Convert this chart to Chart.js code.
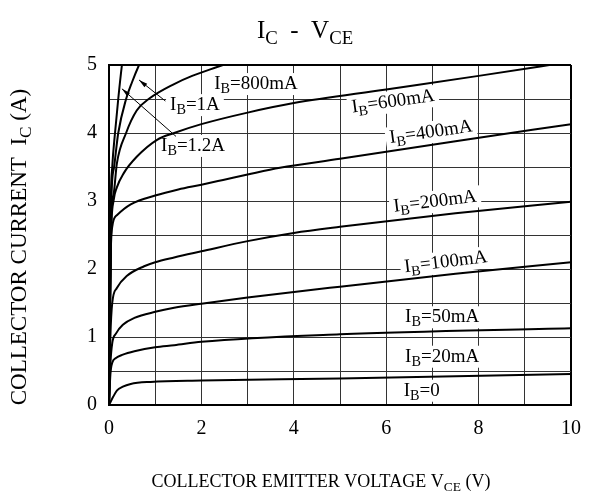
<!DOCTYPE html>
<html lang="en">
<head>
<meta charset="UTF-8">
<title>IC - VCE</title>
<script src="https://cdn.jsdelivr.net/npm/chart.js"></script>
<style>
  html, body { margin: 0; padding: 0; background: #fff; }
</style>
</head>
<body>
<canvas id="icChart" width="589" height="495"></canvas>
<script>
// base current of each curve, bottom to top
const baseCurrents = ['20mA', '50mA', '100mA', '200mA', '400mA', '600mA', '800mA', '1A', '1.2A'];

// curves (V, A)
const vce20  = [0, 0.09, 0.17, 0.3, 0.47, 0.9, 2, 5, 10];
const ic20   = [0, 0.12, 0.21, 0.27, 0.31, 0.34, 0.36, 0.39, 0.455];
const vce50  = [0, 0.03, 0.07, 0.15, 0.3, 0.55, 1, 1.41, 2, 5, 10];
const ic50   = [0, 0.45, 0.62, 0.69, 0.74, 0.79, 0.85, 0.88, 0.93, 1.04, 1.13];
const vce100 = [0, 0.03, 0.07, 0.15, 0.3, 0.55, 1, 1.41, 2, 3, 5, 7.5, 10];
const ic100  = [0, 0.6, 0.91, 1.05, 1.18, 1.28, 1.37, 1.43, 1.49, 1.58, 1.74, 1.93, 2.10];
const vce200 = [0, 0.03, 0.07, 0.17, 0.39, 0.76, 1, 1.41, 2, 3, 4, 5, 7.5, 10];
const ic200  = [0, 1.0, 1.5, 1.72, 1.9, 2.04, 2.1, 2.17, 2.26, 2.41, 2.53, 2.62, 2.82, 2.99];
const vce400 = [0, 0.03, 0.07, 0.17, 0.47, 1, 1.5, 2, 2.47, 3, 3.7, 5, 7.5, 10];
const ic400  = [0, 2.0, 2.62, 2.79, 2.95, 3.08, 3.17, 3.24, 3.31, 3.39, 3.49, 3.62, 3.88, 4.13];
const vce600 = [0, 0.04, 0.1, 0.17, 0.32, 0.6, 1.04, 1.41, 2, 3, 4, 6, 8, 10];
const ic600  = [0, 2.4, 3.01, 3.2, 3.41, 3.65, 3.9, 4.0, 4.13, 4.3, 4.44, 4.64, 4.84, 5.05];
const vce800 = [0, 0.05, 0.1, 0.17, 0.37, 0.6, 0.88, 1.41, 1.8, 2.34, 2.6];
const ic800  = [0, 2.8, 3.1, 3.55, 4.0, 4.33, 4.51, 4.72, 4.84, 4.97, 5.03];
const vce1a  = [0, 0.05, 0.11, 0.2, 0.37, 0.5, 0.65, 0.7];
const ic1a   = [0, 3.0, 3.5, 4.0, 4.5, 4.75, 5.0, 5.07];
const vce12a = [0, 0.04, 0.07, 0.13, 0.2, 0.28, 0.32];
const ic12a  = [0, 3.0, 3.5, 4.0, 4.5, 5.0, 5.2];

const xTickLabels = [0, 2, 4, 6, 8, 10];
const yTickLabels = [0, 1, 2, 3, 4, 5];

const curves = [
  [vce20, ic20], [vce50, ic50], [vce100, ic100], [vce200, ic200], [vce400, ic400],
  [vce600, ic600], [vce800, ic800], [vce1a, ic1a], [vce12a, ic12a]
];

// curve labels: text after "IB", position in data units, angle in degrees
const curveLabels = [
  { t: '=0',     x: 6.77, y: 0.21, a: 0 },
  { t: '=20mA',  x: 7.21, y: 0.71, a: 0 },
  { t: '=50mA',  x: 7.21, y: 1.29, a: 0 },
  { t: '=100mA', x: 7.29, y: 2.10, a: -7 },
  { t: '=200mA', x: 7.06, y: 2.99, a: -7 },
  { t: '=400mA', x: 6.97, y: 4.01, a: -8 },
  { t: '=600mA', x: 6.15, y: 4.46, a: -8 },
  { t: '=800mA', x: 3.18, y: 4.72, a: 0 },
  { t: '=1A',    x: 1.86, y: 4.41, a: 0 },
  { t: '=1.2A',  x: 1.82, y: 3.81, a: 0 }
];
const arrows = [
  { from: [1.22, 4.47], to: [0.65, 4.78] },
  { from: [1.45, 3.95], to: [0.28, 4.65] }
];

const FONT = '"Liberation Serif", "Times New Roman", serif';

function richWidth(ctx, parts, size) {
  let w = 0;
  parts.forEach(p => {
    ctx.font = (p[1] ? size * 0.75 : size) + 'px ' + FONT;
    w += ctx.measureText(p[0]).width;
  });
  return w;
}

function drawRich(ctx, parts, x, y, size) {
  let cx = x - richWidth(ctx, parts, size) / 2;
  ctx.textBaseline = 'alphabetic';
  ctx.textAlign = 'left';
  parts.forEach(p => {
    ctx.font = (p[1] ? size * 0.75 : size) + 'px ' + FONT;
    ctx.fillText(p[0], cx, p[1] ? y + size * 0.22 : y);
    cx += ctx.measureText(p[0]).width;
  });
}

const labelPlugin = {
  id: 'labels',
  beforeDatasetsDraw(chart) {
    const { ctx, scales: { x, y } } = chart;
    const size = 19;
    curveLabels.forEach(l => {
      const parts = [['I', 0], ['B', 1], [l.t, 0]];
      const w = richWidth(ctx, parts, size);
      ctx.save();
      ctx.translate(x.getPixelForValue(l.x), y.getPixelForValue(l.y));
      ctx.rotate(l.a * Math.PI / 180);
      ctx.fillStyle = '#fff';
      ctx.fillRect(-w / 2 - 4, -11, w + 8, 22);
      ctx.fillStyle = '#000';
      drawRich(ctx, parts, 0, 5, size);
      ctx.restore();
    });
  },
  afterDatasetsDraw(chart) {
    const { ctx, scales: { x, y } } = chart;
    ctx.save();
    ctx.strokeStyle = '#000';
    ctx.fillStyle = '#000';
    ctx.lineWidth = 1;
    arrows.forEach(a => {
      const x0 = x.getPixelForValue(a.from[0]), y0 = y.getPixelForValue(a.from[1]);
      const x1 = x.getPixelForValue(a.to[0]), y1 = y.getPixelForValue(a.to[1]);
      const ang = Math.atan2(y1 - y0, x1 - x0);
      ctx.beginPath();
      ctx.moveTo(x0, y0);
      ctx.lineTo(x1, y1);
      ctx.stroke();
      ctx.beginPath();
      ctx.moveTo(x1, y1);
      ctx.lineTo(x1 - 9 * Math.cos(ang - 0.25), y1 - 9 * Math.sin(ang - 0.25));
      ctx.lineTo(x1 - 9 * Math.cos(ang + 0.25), y1 - 9 * Math.sin(ang + 0.25));
      ctx.closePath();
      ctx.fill();
    });
    ctx.restore();
  },
  afterDraw(chart) {
    const ctx = chart.ctx;
    ctx.save();
    ctx.fillStyle = '#000';
    drawRich(ctx, [['I', 0], ['C', 1], ['  -  V', 0], ['CE', 1]], 305, 38, 25);
    drawRich(ctx, [['COLLECTOR EMITTER VOLTAGE V', 0], ['CE', 1], [' (V)', 0]], 321, 487, 18);
    ctx.translate(26, 247);
    ctx.rotate(-Math.PI / 2);
    drawRich(ctx, [['COLLECTOR CURRENT  I', 0], ['C', 1], [' (A)', 0]], 0, 0, 23);
    ctx.restore();
  }
};

const edge = (v, max) => (v === max ? '#000' : '#333');

new Chart(document.getElementById('icChart'), {
  type: 'line',
  data: {
    datasets: curves.map((c, i) => ({
      label: 'IB=' + baseCurrents[i],
      data: c[0].map((v, k) => ({ x: v, y: c[1][k] })),
      borderColor: '#000',
      borderWidth: 2,
      pointRadius: 0,
      fill: false,
      cubicInterpolationMode: 'monotone',
      clip: 0
    }))
  },
  options: {
    responsive: false,
    animation: false,
    devicePixelRatio: 1,
    layout: { padding: { top: 65, right: 18, left: 0, bottom: 0 } },
    plugins: { legend: { display: false }, tooltip: { enabled: false }, title: { display: false } },
    scales: {
      x: {
        type: 'linear',
        min: 0, max: 10,
        afterFit(s) { s.height = 90; s.paddingLeft = 0; s.paddingRight = 0; },
        ticks: {
          stepSize: 1,
          autoSkip: false,
          maxRotation: 0,
          padding: 12,
          color: '#000',
          font: { family: FONT, size: 20 },
          callback: v => (xTickLabels.includes(v) ? String(v) : '')
        },
        grid: {
          drawTicks: false,
          color: c => edge(c.tick && c.tick.value, 10),
          lineWidth: c => (c.tick && c.tick.value === 10 ? 2 : 1)
        },
        border: { display: true, color: '#000', width: 2 }
      },
      y: {
        type: 'linear',
        min: 0, max: 5,
        afterFit(s) { s.width = 109; s.paddingTop = 0; s.paddingBottom = 0; },
        ticks: {
          stepSize: 0.5,
          autoSkip: false,
          padding: 12,
          color: '#000',
          font: { family: FONT, size: 20 },
          callback: v => (yTickLabels.includes(v) ? String(v) : '')
        },
        grid: {
          drawTicks: false,
          color: c => edge(c.tick && c.tick.value, 5),
          lineWidth: c => (c.tick && c.tick.value === 5 ? 2 : 1)
        },
        border: { display: true, color: '#000', width: 2 }
      }
    }
  },
  plugins: [labelPlugin]
});
</script>
</body>
</html>
